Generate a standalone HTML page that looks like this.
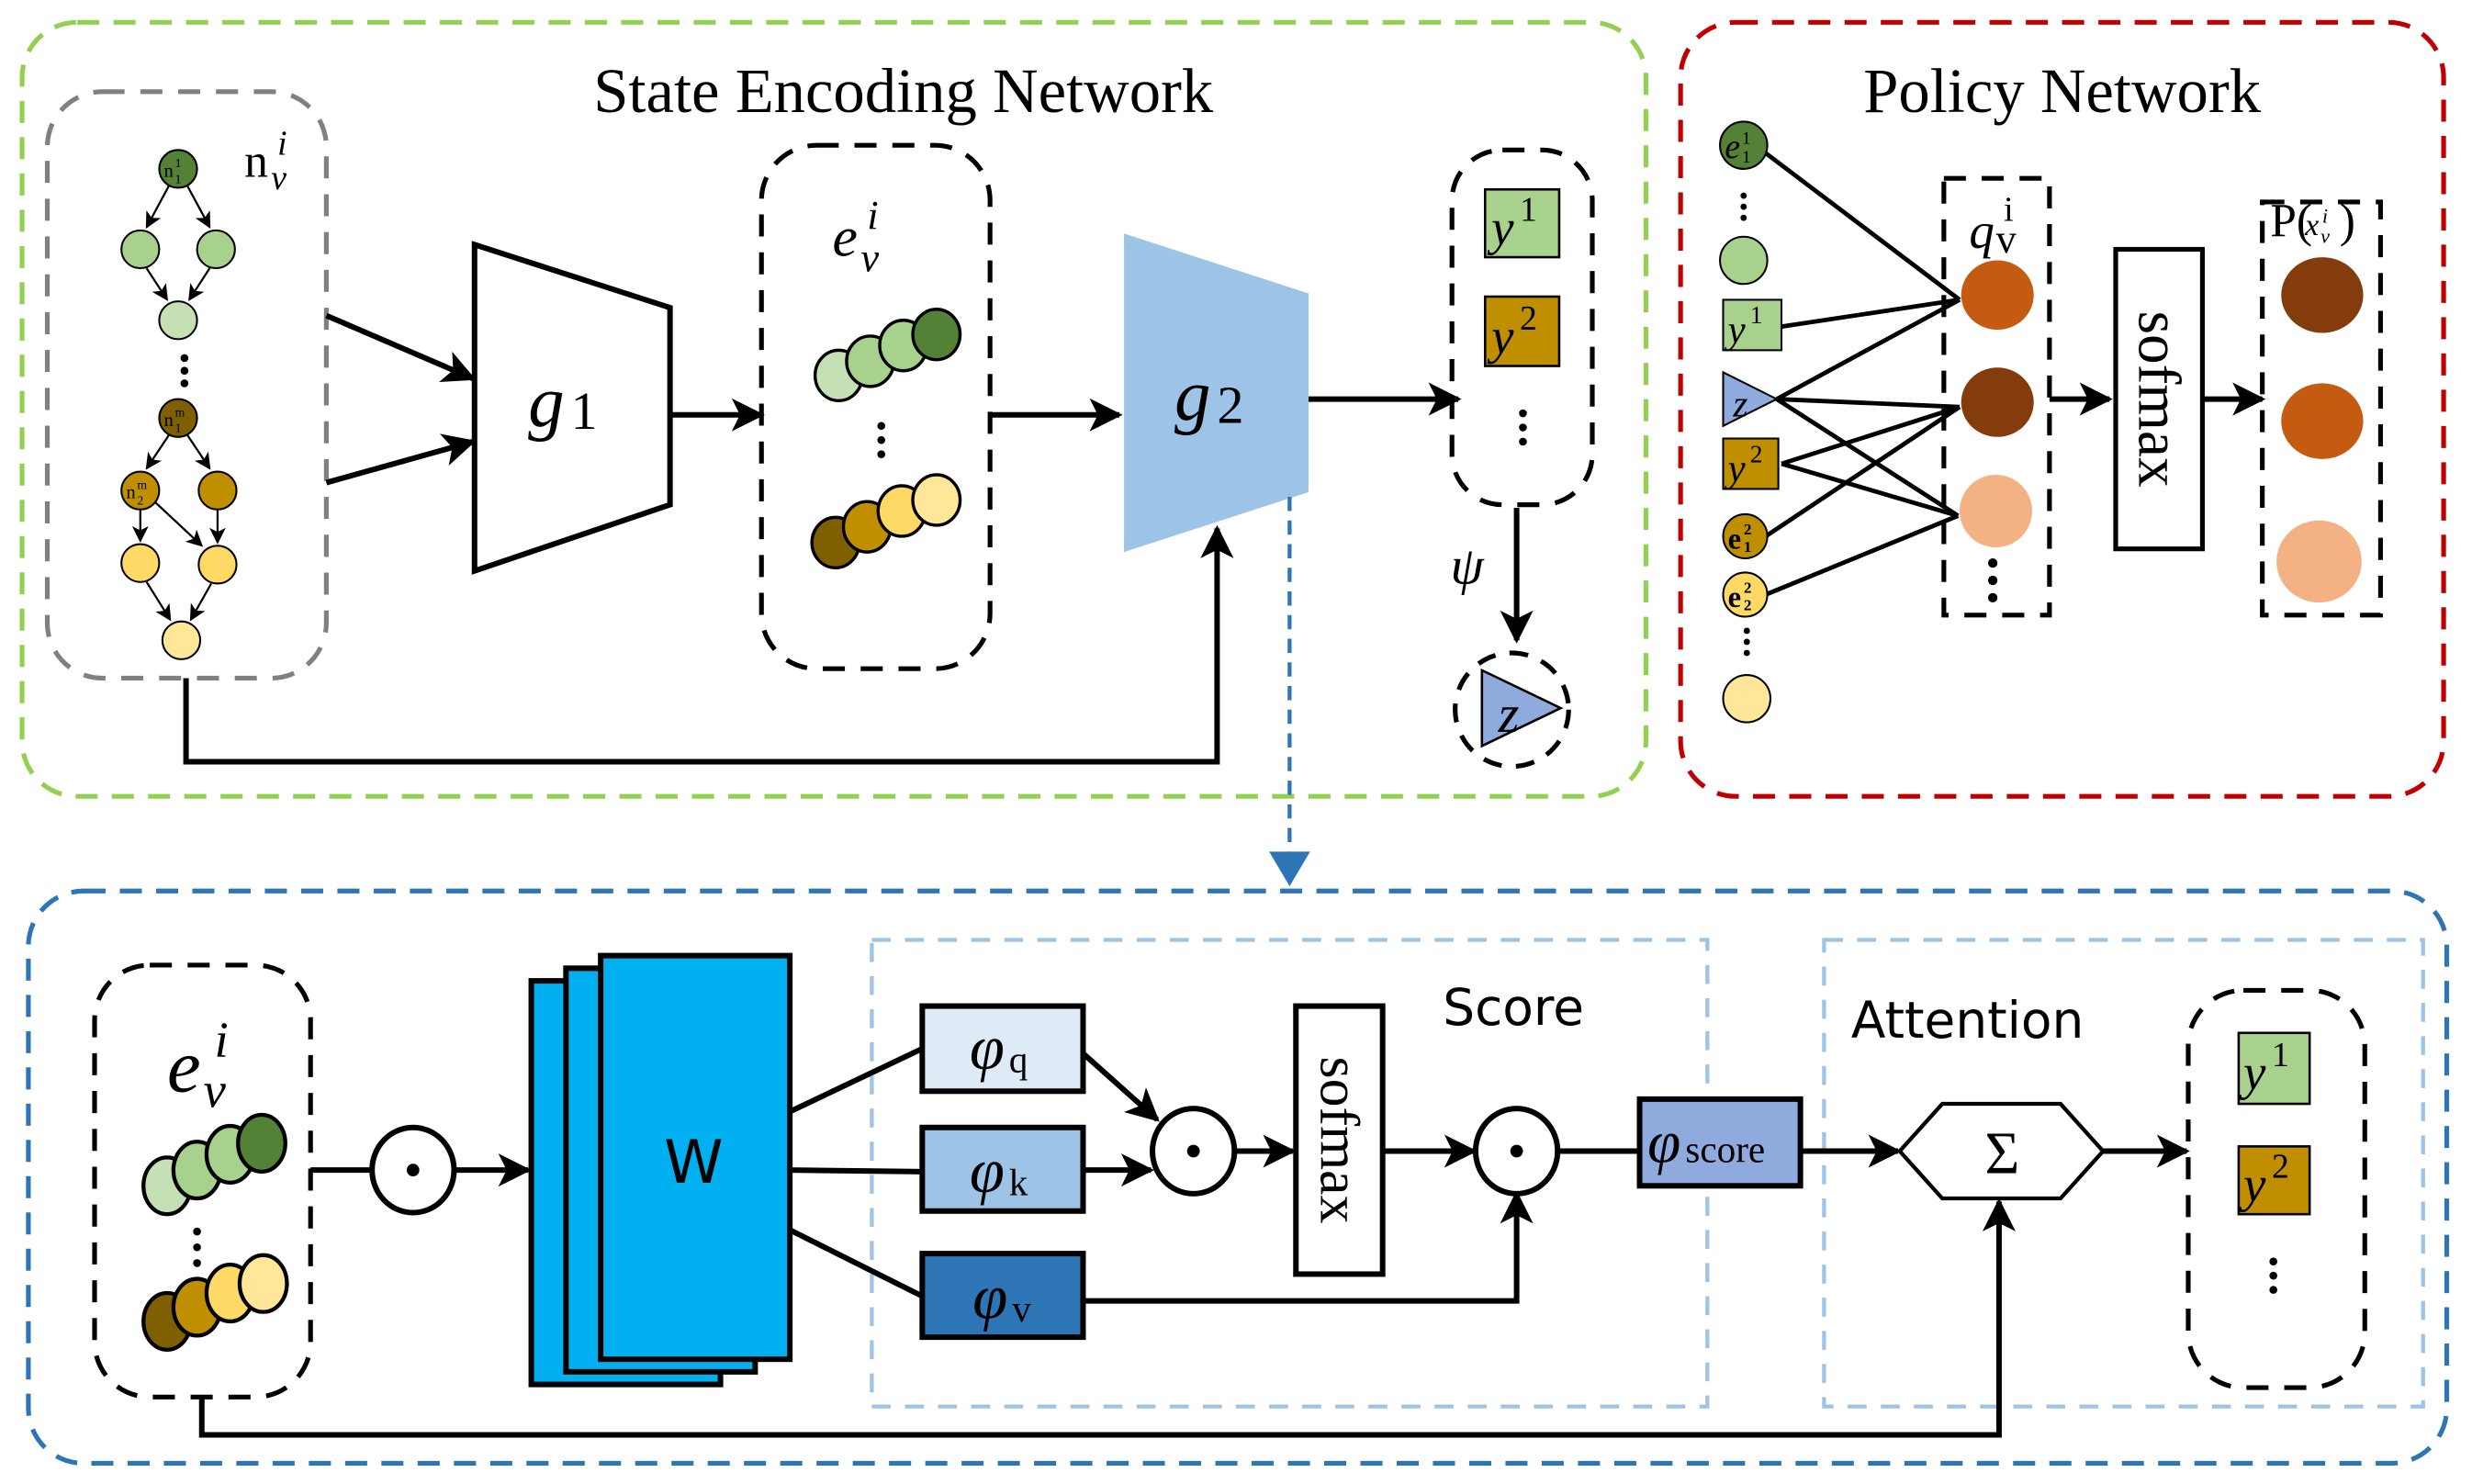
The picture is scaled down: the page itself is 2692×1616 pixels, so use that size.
<!DOCTYPE html>
<html><head><meta charset="utf-8"><style>html,body{margin:0;padding:0;background:#fff}svg{display:block}</style></head>
<body>
<svg width="2692" height="1616" viewBox="0 0 1568 941" xmlns="http://www.w3.org/2000/svg" font-family="Liberation Serif, serif">
<defs>
<marker id="a" viewBox="0 0 10 10" refX="9" refY="5" markerWidth="6" markerHeight="6" orient="auto" markerUnits="strokeWidth"><path d="M0,0 L10,5 L0,10 L2.5,5 z" fill="#000"/></marker>
<marker id="as" viewBox="0 0 10 10" refX="9" refY="5" markerWidth="8" markerHeight="8" orient="auto" markerUnits="strokeWidth"><path d="M0,0 L10,5 L0,10 L2.5,5 z" fill="#000"/></marker>
</defs>
<rect width="1568" height="941" fill="#fff"/>
<rect x="14" y="14" width="1030" height="491" rx="35" fill="none" stroke="#92d050" stroke-width="3" stroke-dasharray="14,9"/>
<rect x="1066" y="14" width="484" height="491" rx="35" fill="none" stroke="#c00000" stroke-width="3" stroke-dasharray="14,9"/>
<rect x="18" y="565" width="1534" height="363" rx="35" fill="none" stroke="#2e75b6" stroke-width="3" stroke-dasharray="14,9"/>
<text x="573" y="71" font-size="40" text-anchor="middle">State Encoding Network</text>
<text x="1308" y="71" font-size="40" text-anchor="middle">Policy Network</text>

<rect x="30" y="58" width="177" height="372" rx="35" fill="none" stroke="#808080" stroke-width="3" stroke-dasharray="14,10"/>
<text x="155" y="112" font-size="30">n</text>
<text x="172" y="120" font-size="22" font-style="italic">v</text>
<text x="176" y="98" font-size="22" font-style="italic">i</text>
<g stroke="#000" stroke-width="1.3" marker-end="url(#as)">
<line x1="107" y1="118" x2="93" y2="144"/><line x1="119" y1="118" x2="133" y2="144"/>
<line x1="93" y1="170" x2="106" y2="190"/><line x1="133" y1="170" x2="120" y2="190"/>
<line x1="107" y1="276" x2="93" y2="297"/><line x1="119" y1="276" x2="133" y2="297"/>
<line x1="89" y1="323" x2="89" y2="343"/><line x1="98" y1="318" x2="128" y2="346"/><line x1="138" y1="323" x2="138" y2="344"/>
<line x1="93" y1="369" x2="108" y2="393"/><line x1="134" y1="370" x2="121" y2="393"/>
</g>
<g stroke="#000" stroke-width="1.2">
<circle cx="113" cy="107" r="12" fill="#538135"/>
<circle cx="89" cy="158" r="12" fill="#a9d18e"/><circle cx="137" cy="158" r="12" fill="#a9d18e"/>
<circle cx="113" cy="203" r="12" fill="#c5e0b4"/>
<circle cx="113" cy="265" r="12" fill="#7f6000"/>
<circle cx="89" cy="311" r="12" fill="#bf8f00"/><circle cx="138" cy="311" r="12" fill="#bf8f00"/>
<circle cx="89" cy="357" r="12" fill="#ffd966"/><circle cx="138" cy="358" r="12" fill="#ffd966"/>
<circle cx="115" cy="406" r="12" fill="#ffe699"/>
</g>
<g font-size="12"><text x="104" y="112">n</text><text x="111" y="106" font-size="8">1</text><text x="111" y="116" font-size="8">1</text>
<text x="104" y="270">n</text><text x="111" y="264" font-size="8">m</text><text x="111" y="274" font-size="8">1</text>
<text x="80" y="316">n</text><text x="87" y="310" font-size="8">m</text><text x="87" y="320" font-size="8">2</text></g>
<g fill="#000"><circle cx="117" cy="227" r="2.5"/><circle cx="117" cy="235" r="2.5"/><circle cx="117" cy="243" r="2.5"/></g>

<g stroke="#000" stroke-width="3.5" fill="none" marker-end="url(#a)">
<line x1="207" y1="200" x2="300" y2="240"/><line x1="207" y1="306" x2="300" y2="280"/>
<line x1="425" y1="263" x2="483" y2="263"/>
<line x1="628" y1="263" x2="710" y2="263"/>
<line x1="830" y1="253" x2="925" y2="253"/>
<line x1="962" y1="322" x2="962" y2="406"/>
<polyline points="118,430 118,483 772,483 772,335"/>
</g>
<polygon points="301,155 425,195 425,320 301,362" fill="#fff" stroke="#000" stroke-width="3.5"/>
<text x="335" y="270" font-size="46" font-style="italic">g</text><text x="362" y="272" font-size="34">1</text>

<rect x="483" y="92" width="145" height="332" rx="35" fill="none" stroke="#000" stroke-width="3" stroke-dasharray="14,10"/>
<text x="528" y="162" font-size="36" font-style="italic">e</text>
<text x="546" y="172" font-size="26" font-style="italic">v</text>
<text x="550" y="145" font-size="26" font-style="italic">i</text>
<g stroke="#000" stroke-width="2">
<ellipse cx="532" cy="238" rx="15" ry="16" fill="#c5e0b4"/><ellipse cx="552" cy="229" rx="15" ry="16" fill="#a9d18e"/><ellipse cx="573" cy="219" rx="15" ry="16" fill="#a9d18e"/><ellipse cx="594" cy="212" rx="15" ry="16" fill="#538135"/>
<ellipse cx="530" cy="344" rx="15" ry="16" fill="#7f6000"/><ellipse cx="550" cy="334" rx="15" ry="16" fill="#bf8f00"/><ellipse cx="572" cy="324" rx="15" ry="16" fill="#ffd966"/><ellipse cx="594" cy="317" rx="15" ry="16" fill="#ffe699"/>
</g>
<g fill="#000"><circle cx="559" cy="270" r="2.5"/><circle cx="559" cy="279" r="2.5"/><circle cx="559" cy="288" r="2.5"/></g>

<polygon points="713,148 830,186 830,312 713,350" fill="#9dc3e6"/>
<text x="745" y="266" font-size="46" font-style="italic">g</text><text x="772" y="268" font-size="34">2</text>
<line x1="818" y1="315" x2="818" y2="555" stroke="#2e75b6" stroke-width="2.5" stroke-dasharray="9,6"/>
<polygon points="805,540 831,540 818,562" fill="#2e75b6"/>

<rect x="921" y="95" width="89" height="225" rx="32" fill="none" stroke="#000" stroke-width="3" stroke-dasharray="14,10"/>
<rect x="942" y="120" width="47" height="43" fill="#a9d18e" stroke="#000" stroke-width="1.5"/>
<text x="946" y="155" font-size="32" font-style="italic">y</text><text x="964" y="140" font-size="22">1</text>
<rect x="942" y="188" width="47" height="44" fill="#bf8f00" stroke="#000" stroke-width="1.5"/>
<text x="946" y="224" font-size="32" font-style="italic">y</text><text x="964" y="209" font-size="22">2</text>
<g fill="#000"><circle cx="966" cy="262" r="2.5"/><circle cx="966" cy="271" r="2.5"/><circle cx="966" cy="280" r="2.5"/></g>
<text x="920" y="370" font-size="34" font-style="italic">ψ</text>
<circle cx="959" cy="450" r="36" fill="none" stroke="#000" stroke-width="3" stroke-dasharray="12,9"/>
<polygon points="940,425 940,473 990,449" fill="#8faadc" stroke="#000" stroke-width="1.5"/>
<text x="957" y="464" font-size="34" font-style="italic" text-anchor="middle">z</text>

<g stroke="#000" stroke-width="2.8">
<line x1="1120" y1="97" x2="1243" y2="190"/>
<line x1="1130" y1="207" x2="1243" y2="190"/>
<line x1="1127" y1="253" x2="1243" y2="190"/><line x1="1127" y1="253" x2="1243" y2="258"/><line x1="1127" y1="253" x2="1242" y2="327"/>
<line x1="1130" y1="294" x2="1243" y2="258"/><line x1="1130" y1="294" x2="1242" y2="327"/>
<line x1="1120" y1="340" x2="1243" y2="258"/>
<line x1="1120" y1="377" x2="1242" y2="327"/>
</g>
<circle cx="1106" cy="92" r="15" fill="#538135" stroke="#000" stroke-width="1.2"/>
<text x="1094" y="100" font-size="22" font-style="italic">e</text><text x="1105" y="91" font-size="11">1</text><text x="1105" y="103" font-size="11">1</text>
<g fill="#000"><circle cx="1106" cy="124" r="2"/><circle cx="1106" cy="131" r="2"/><circle cx="1106" cy="138" r="2"/></g>
<circle cx="1106" cy="165" r="15" fill="#a9d18e" stroke="#000" stroke-width="1.2"/>
<rect x="1093" y="190" width="37" height="32" fill="#a9d18e" stroke="#000" stroke-width="1.2"/>
<text x="1096" y="217" font-size="25" font-style="italic">y</text><text x="1110" y="205" font-size="16">1</text>
<polygon points="1093,236 1093,270 1127,253" fill="#8faadc" stroke="#000" stroke-width="1.2"/>
<text x="1104" y="264" font-size="24" font-style="italic" text-anchor="middle">z</text>
<rect x="1093" y="278" width="35" height="32" fill="#bf8f00" stroke="#000" stroke-width="1.2"/>
<text x="1096" y="305" font-size="25" font-style="italic">y</text><text x="1110" y="293" font-size="16">2</text>
<circle cx="1107" cy="340" r="14" fill="#bf8f00" stroke="#000" stroke-width="1.2"/>
<text x="1096" y="348" font-size="19" font-weight="bold">e</text><text x="1106" y="339" font-size="10" font-weight="bold">2</text><text x="1106" y="350" font-size="10" font-weight="bold">1</text>
<circle cx="1107" cy="377" r="14" fill="#ffd966" stroke="#000" stroke-width="1.2"/>
<text x="1096" y="385" font-size="19" font-weight="bold">e</text><text x="1106" y="376" font-size="10" font-weight="bold">2</text><text x="1106" y="387" font-size="10" font-weight="bold">2</text>
<g fill="#000"><circle cx="1108" cy="400" r="2"/><circle cx="1108" cy="407" r="2"/><circle cx="1108" cy="414" r="2"/></g>
<circle cx="1108" cy="443" r="15" fill="#ffe699" stroke="#000" stroke-width="1.2"/>

<rect x="1233" y="113" width="67" height="277" fill="none" stroke="#000" stroke-width="3" stroke-dasharray="14,10"/>
<text x="1249" y="157" font-size="32" font-style="italic">q</text><text x="1266" y="160" font-size="26">v</text><text x="1271" y="140" font-size="22">i</text>
<ellipse cx="1267" cy="187" rx="23" ry="22" fill="#c55a11"/>
<ellipse cx="1267" cy="255" rx="23" ry="22" fill="#843c0c"/>
<ellipse cx="1266" cy="324" rx="23" ry="23" fill="#f4b183"/>
<g fill="#000"><circle cx="1264" cy="357" r="3"/><circle cx="1264" cy="368" r="3"/><circle cx="1264" cy="379" r="3"/></g>
<g stroke="#000" stroke-width="3.5" marker-end="url(#a)"><line x1="1300" y1="253" x2="1338" y2="253"/><line x1="1397" y1="253" x2="1435" y2="253"/></g>
<rect x="1342" y="158" width="55" height="190" fill="#fff" stroke="#000" stroke-width="3"/>
<text transform="translate(1357,253) rotate(90)" font-size="38" text-anchor="middle">sofmax</text>
<rect x="1435" y="128" width="75" height="262" fill="none" stroke="#000" stroke-width="3" stroke-dasharray="14,10"/>
<text x="1440" y="150" font-size="30">P(</text><text x="1462" y="149" font-size="20" font-style="italic">x</text><text x="1472" y="154" font-size="13" font-style="italic">v</text><text x="1473" y="141" font-size="13" font-style="italic">i</text><text x="1484" y="150" font-size="30">)</text>
<ellipse cx="1473" cy="187" rx="26" ry="24" fill="#843c0c"/>
<ellipse cx="1473" cy="267" rx="26" ry="24" fill="#c55a11"/>
<ellipse cx="1471" cy="356" rx="27" ry="26" fill="#f4b183"/>

<rect x="553" y="596" width="530" height="296" fill="none" stroke="#9dc3e6" stroke-width="2.5" stroke-dasharray="12,9"/>
<rect x="1157" y="596" width="380" height="296" fill="none" stroke="#9dc3e6" stroke-width="2.5" stroke-dasharray="12,9"/>
<text x="960" y="650" font-size="32" font-family="DejaVu Sans, sans-serif" text-anchor="middle">Score</text>
<text x="1248" y="658" font-size="32" font-family="DejaVu Sans, sans-serif" text-anchor="middle">Attention</text>
<rect x="60" y="612" width="137" height="274" rx="35" fill="none" stroke="#000" stroke-width="3" stroke-dasharray="14,10"/>
<text x="106" y="692" font-size="48" font-style="italic">e</text>
<text x="129" y="702" font-size="32" font-style="italic">v</text>
<text x="136" y="670" font-size="32" font-style="italic">i</text>
<g stroke="#000" stroke-width="2.5">
<ellipse cx="106" cy="752" rx="15" ry="18" fill="#c5e0b4"/><ellipse cx="125" cy="742" rx="15" ry="18" fill="#a9d18e"/><ellipse cx="146" cy="732" rx="15" ry="18" fill="#a9d18e"/><ellipse cx="166" cy="725" rx="15" ry="18" fill="#538135"/>
<ellipse cx="106" cy="838" rx="15" ry="18" fill="#7f6000"/><ellipse cx="125" cy="829" rx="15" ry="18" fill="#bf8f00"/><ellipse cx="146" cy="820" rx="15" ry="18" fill="#ffd966"/><ellipse cx="167" cy="814" rx="15" ry="18" fill="#ffe699"/>
</g>
<g fill="#000"><circle cx="125" cy="781" r="2.5"/><circle cx="125" cy="791" r="2.5"/><circle cx="125" cy="801" r="2.5"/></g>

<g stroke="#000" stroke-width="3.5" fill="none">
<line x1="197" y1="742" x2="236" y2="742"/>
<line x1="289" y1="742" x2="335" y2="742" marker-end="url(#a)"/>
<line x1="501" y1="705" x2="585" y2="665"/>
<line x1="501" y1="742" x2="585" y2="743"/>
<line x1="501" y1="780" x2="585" y2="822"/>
<line x1="687" y1="668" x2="734" y2="710" marker-end="url(#a)"/>
<line x1="687" y1="742" x2="730" y2="742" marker-end="url(#a)"/>
<line x1="783" y1="730" x2="820" y2="730" marker-end="url(#a)"/>
<line x1="877" y1="730" x2="935" y2="730" marker-end="url(#a)"/>
<polyline points="687,825 962,825 962,757" marker-end="url(#a)"/>
<line x1="988" y1="730" x2="1040" y2="730"/>
<line x1="1142" y1="730" x2="1204" y2="730" marker-end="url(#a)"/>
<line x1="1334" y1="730" x2="1387" y2="730" marker-end="url(#a)"/>
<polyline points="128,886 128,910 1268,910 1268,762" marker-end="url(#a)"/>
</g>
<ellipse cx="262" cy="742" rx="26" ry="27" fill="#fff" stroke="#000" stroke-width="3.5"/><circle cx="262" cy="742" r="4" fill="#000"/>
<rect x="337" y="622" width="120" height="256" fill="#00b0f0" stroke="#000" stroke-width="3.5"/>
<rect x="359" y="614" width="120" height="256" fill="#00b0f0" stroke="#000" stroke-width="3.5"/>
<rect x="381" y="606" width="120" height="256" fill="#00b0f0" stroke="#000" stroke-width="3.5"/>
<text x="440" y="750" font-size="38" font-family="DejaVu Sans, sans-serif" text-anchor="middle">W</text>
<rect x="585" y="638" width="102" height="54" fill="#deebf7" stroke="#000" stroke-width="3.5"/>
<rect x="585" y="715" width="102" height="53" fill="#9dc3e6" stroke="#000" stroke-width="3.5"/>
<rect x="585" y="795" width="102" height="53" fill="#2e75b6" stroke="#000" stroke-width="3.5"/>
<text x="615" y="678" font-size="40" font-style="italic">φ</text><text x="640" y="680" font-size="24">q</text>
<text x="615" y="756" font-size="40" font-style="italic">φ</text><text x="640" y="758" font-size="24">k</text>
<text x="617" y="836" font-size="40" font-style="italic">φ</text><text x="642" y="838" font-size="24">v</text>
<ellipse cx="757" cy="730" rx="26" ry="27" fill="#fff" stroke="#000" stroke-width="3.5"/><circle cx="757" cy="730" r="4" fill="#000"/>
<rect x="822" y="638" width="55" height="170" fill="#fff" stroke="#000" stroke-width="3.5"/>
<text transform="translate(838,723) rotate(90)" font-size="36" text-anchor="middle">sofmax</text>
<ellipse cx="962" cy="730" rx="26" ry="27" fill="#fff" stroke="#000" stroke-width="3.5"/><circle cx="962" cy="730" r="4" fill="#000"/>
<rect x="1040" y="697" width="102" height="55" fill="#8faadc" stroke="#000" stroke-width="3.5"/>
<text x="1045" y="737" font-size="38" font-style="italic">φ</text><text x="1069" y="737" font-size="24">score</text>
<polygon points="1205,730 1232,700 1307,700 1334,730 1307,760 1232,760" fill="#fff" stroke="#000" stroke-width="2.5"/>
<text x="1270" y="744" font-size="38" text-anchor="middle">Σ</text>
<rect x="1388" y="628" width="112" height="252" rx="35" fill="none" stroke="#000" stroke-width="3" stroke-dasharray="14,10"/>
<rect x="1420" y="655" width="45" height="45" fill="#a9d18e" stroke="#000" stroke-width="1.5"/>
<text x="1423" y="691" font-size="32" font-style="italic">y</text><text x="1441" y="676" font-size="22">1</text>
<rect x="1420" y="727" width="45" height="43" fill="#bf8f00" stroke="#000" stroke-width="1.5"/>
<text x="1423" y="762" font-size="32" font-style="italic">y</text><text x="1441" y="747" font-size="22">2</text>
<g fill="#000"><circle cx="1442" cy="800" r="2.5"/><circle cx="1442" cy="809" r="2.5"/><circle cx="1442" cy="818" r="2.5"/></g>
</svg>
</body></html>
